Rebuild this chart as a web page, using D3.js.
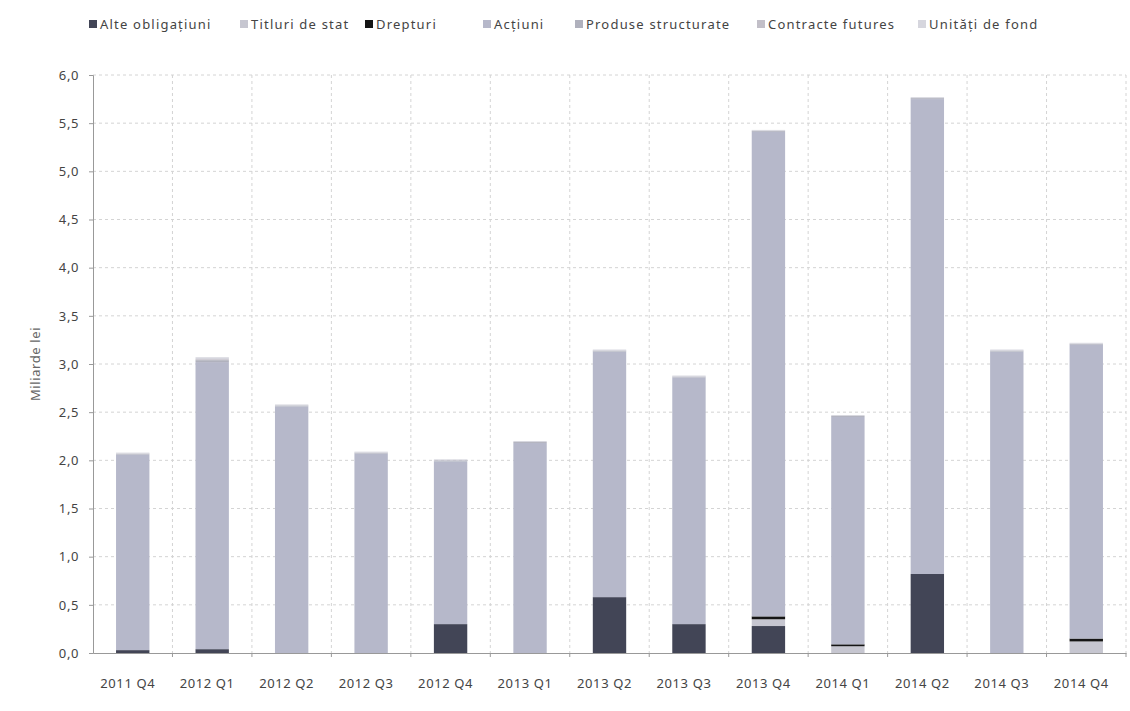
<!DOCTYPE html>
<html>
<head>
<meta charset="utf-8">
<script src="https://cdn.jsdelivr.net/npm/d3@7"></script>
<style>
  body { margin: 0; background: #fff; }
  text { font-family: "Noto Sans", sans-serif; }
</style>
</head>
<body>
<svg id="chart" width="1130" height="711"></svg>
<script>
// data (miliarde lei)
var categories = ["2011 Q4","2012 Q1","2012 Q2","2012 Q3","2012 Q4","2013 Q1","2013 Q2",
                  "2013 Q3","2013 Q4","2014 Q1","2014 Q2","2014 Q3","2014 Q4"];
var seriesNames = ["Alte obligațiuni","Titluri de stat","Drepturi","Acțiuni",
                   "Produse structurate","Contracte futures","Unități de fond"];
var alteObligatiuni    = [0.03, 0.04, 0.00, 0.00, 0.30, 0.00, 0.58, 0.30, 0.28, 0.00, 0.82, 0.00, 0.00];
var titluriDeStat      = [0.00, 0.00, 0.00, 0.00, 0.00, 0.00, 0.00, 0.00, 0.07, 0.07, 0.00, 0.00, 0.12];
var drepturi           = [0.00, 0.00, 0.00, 0.00, 0.00, 0.00, 0.00, 0.00, 0.03, 0.02, 0.00, 0.00, 0.03];
var actiuni            = [2.03, 2.98, 2.56, 2.07, 1.69, 2.18, 2.55, 2.56, 5.03, 2.36, 4.93, 3.13, 3.05];
var produseStructurate = [0.01, 0.02, 0.01, 0.01, 0.01, 0.01, 0.01, 0.01, 0.01, 0.01, 0.01, 0.01, 0.01];
var contracteFutures   = [0.00, 0.01, 0.00, 0.00, 0.00, 0.00, 0.00, 0.00, 0.00, 0.00, 0.00, 0.00, 0.00];
var unitatiDeFond      = [0.01, 0.02, 0.01, 0.01, 0.01, 0.01, 0.01, 0.01, 0.01, 0.01, 0.01, 0.01, 0.01];
var yTicks = [0,0.5,1,1.5,2,2.5,3,3.5,4,4.5,5,5.5,6];

var colors = ["#424556","#c6c6d0","#151515","#b6b8ca","#b0b1bd","#c2bfc8","#d6d6de"];

var allSeries = [alteObligatiuni, titluriDeStat, drepturi, actiuni,
                 produseStructurate, contracteFutures, unitatiDeFond];

var rows = categories.map(function (c, i) {
  var r = { cat: c };
  seriesNames.forEach(function (s, j) { r[s] = allSeries[j][i]; });
  return r;
});

var svg = d3.select('#chart');
var mLeft = 93, mRight = 1126, mTop = 75, mBottom = 653;

var x = d3.scaleBand().domain(categories).range([mLeft, mRight])
    .paddingInner(0.58).paddingOuter(0.29);
var y = d3.scaleLinear().domain([0, 6]).range([mBottom, mTop]);

// grid
svg.append('g').selectAll('line').data(yTicks.slice(1)).enter().append('line')
    .attr('x1', mLeft).attr('x2', mRight)
    .attr('y1', function (d) { return y(d); }).attr('y2', function (d) { return y(d); })
    .attr('stroke', '#d4d4d4').attr('stroke-dasharray', '3,3');
svg.append('g').selectAll('line').data(categories).enter().append('line')
    .attr('x1', function (d) { return x(d) + x.bandwidth() / 2 + x.step() / 2; })
    .attr('x2', function (d) { return x(d) + x.bandwidth() / 2 + x.step() / 2; })
    .attr('y1', mTop).attr('y2', mBottom)
    .attr('stroke', '#d4d4d4').attr('stroke-dasharray', '3,3');

// stacked bars
var stack = d3.stack().keys(seriesNames)(rows);
svg.append('g').selectAll('g').data(stack).enter().append('g')
    .attr('fill', function (d, i) { return colors[i]; })
  .selectAll('rect').data(function (d) { return d; }).enter().append('rect')
    .attr('x', function (d) { return x(d.data.cat); })
    .attr('width', x.bandwidth())
    .attr('y', function (d) { return y(d[1]); })
    .attr('height', function (d) { return y(d[0]) - y(d[1]); });

// axes
var yAxis = svg.append('g').attr('transform', 'translate(' + mLeft + ',0)')
    .call(d3.axisLeft(y).tickValues(yTicks).tickSize(4).tickPadding(10)
      .tickFormat(function (d) { return d3.format('.1f')(d).replace('.', ','); }));
var xAxis = svg.append('g').attr('transform', 'translate(0,' + mBottom + ')')
    .call(d3.axisBottom(x).tickSize(0).tickPadding(26));
xAxis.selectAll('.tick').append('line')
    .attr('x1', x.step() / 2).attr('x2', x.step() / 2).attr('y1', 0).attr('y2', 4)
    .attr('stroke', '#999');
xAxis.selectAll('.tick text').attr('dx', -5);
[yAxis, xAxis].forEach(function (a) {
  a.select('.domain').attr('stroke', '#999');
  a.selectAll('.tick line').attr('stroke', '#999');
  a.selectAll('text').attr('fill', '#444').style('font-size', '13px')
    .style('letter-spacing', '0.6px')
    .style('font-family', '"Noto Sans", sans-serif');
});

svg.append('text').attr('transform', 'translate(40,' + y(3) + ') rotate(-90)')
    .attr('text-anchor', 'middle').attr('fill', '#666').style('font-size', '13px')
    .style('letter-spacing', '0.6px')
    .text('Miliarde lei');

// legend
var legX = [89, 240, 365, 483, 575, 757, 918];
var leg = svg.append('g').selectAll('g').data(seriesNames).enter().append('g')
    .attr('transform', function (d, i) { return 'translate(' + legX[i] + ',20)'; });
leg.append('rect').attr('width', 8).attr('height', 8)
    .attr('fill', function (d, i) { return colors[i]; });
leg.append('text').attr('x', 11).attr('y', 9).attr('fill', '#444')
    .style('font-size', '13px').style('letter-spacing', '1.2px')
    .text(function (d) { return d; });
</script>
</body>
</html>
